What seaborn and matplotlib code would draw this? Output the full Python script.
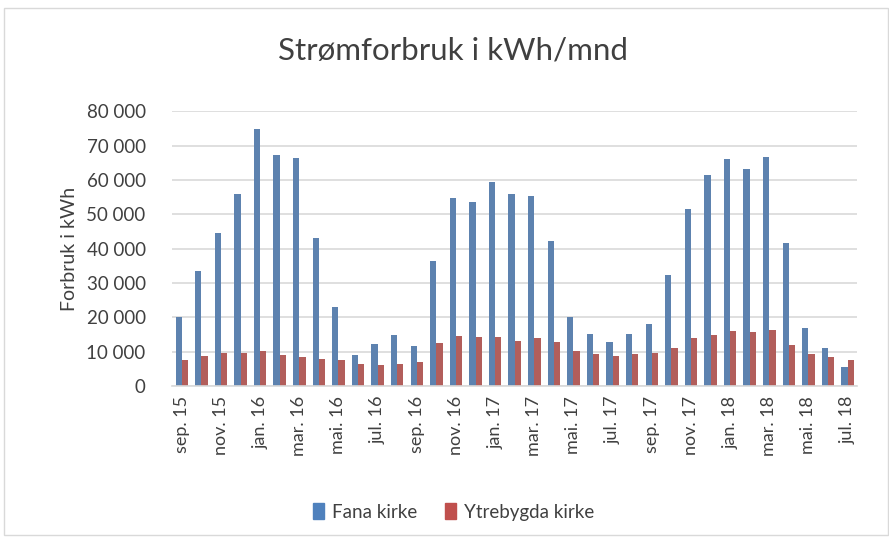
import numpy as np
import pandas as pd
import matplotlib.pyplot as plt
import seaborn as sns
from matplotlib.patches import Rectangle

months = ["sep. 15", "okt. 15", "nov. 15", "des. 15", "jan. 16", "feb. 16", "mar. 16", "apr. 16",
          "mai. 16", "jun. 16", "jul. 16", "aug. 16", "sep. 16", "okt. 16", "nov. 16", "des. 16",
          "jan. 17", "feb. 17", "mar. 17", "apr. 17", "mai. 17", "jun. 17", "jul. 17", "aug. 17",
          "sep. 17", "okt. 17", "nov. 17", "des. 17", "jan. 18", "feb. 18", "mar. 18", "apr. 18",
          "mai. 18", "jun. 18", "jul. 18"]

fana = [20000, 33500, 44500, 56000, 74800, 67300, 66300, 43000, 23000, 9000, 12200, 14800,
        11700, 36300, 54700, 53500, 59500, 55800, 55300, 42300, 20000, 15300, 12700, 15200,
        18000, 32200, 51600, 61300, 66000, 63200, 66800, 41600, 16800, 11100, 5700]

ytrebygda = [7700, 8800, 9700, 9500, 10200, 9000, 8500, 7900, 7500, 6300, 6000, 6400,
             7000, 12600, 14600, 14400, 14400, 13200, 13900, 12900, 10100, 9400, 8800, 9300,
             9600, 11200, 13900, 15000, 15900, 15700, 16200, 12100, 9300, 8400, 7500]

series = ["Fana kirke", "Ytrebygda kirke"]

df = pd.DataFrame({
    "mnd": months * 2,
    "kWh": fana + ytrebygda,
    "kirke": [series[0]] * len(months) + [series[1]] * len(months),
})

sns.set_style("white")
plt.rcParams["font.family"] = ["Lato", "DejaVu Sans"]

fig = plt.figure(figsize=(8.89, 5.40), dpi=100)
ax = fig.add_axes([0.1935, 0.285, 0.771, 0.509])

sns.barplot(data=df, x="mnd", y="kWh", hue="kirke", order=months,
            palette=["#4F81BD", "#C0504D"], width=0.64, dodge=True, ax=ax)

for bar in ax.patches:
    bar.set_edgecolor("none")

ax.set_ylim(0, 80000)
ax.set_xlim(-0.5, len(months) - 0.5)
ax.set_yticks(np.arange(0, 80001, 10000))
ax.set_yticklabels([f"{v:,}".replace(",", " ") for v in range(0, 80001, 10000)],
                   fontsize=13.5, color="#404040")
ax.yaxis.grid(True, color="#d9d9d9", linewidth=1.2)
ax.set_axisbelow(True)

ax.set_xticks(range(len(months)))
ax.set_xticklabels([m if i % 2 == 0 else "" for i, m in enumerate(months)],
                   rotation=90, fontsize=13, color="#404040")
ax.tick_params(axis="x", length=0, pad=7)
ax.tick_params(axis="y", length=0, pad=19)

for s in ["top", "right", "left"]:
    ax.spines[s].set_visible(False)
ax.spines["bottom"].set_color("#d9d9d9")
ax.spines["bottom"].set_linewidth(1.2)

ax.set_xlabel("")
ax.set_ylabel("Forbruk i kWh", fontsize=14, color="#404040", labelpad=6)

ax.legend_.remove()
handles = [Rectangle((0, 0), 1, 1, color=c) for c in ["#4F81BD", "#C0504D"]]
fig.legend(handles, series, loc="center", bbox_to_anchor=(0.51, 0.052), ncol=2,
           frameon=False, fontsize=13.5, handlelength=0.6, handleheight=0.9,
           handletextpad=0.4, columnspacing=1.5, labelcolor="#404040")

fig.suptitle("Strømforbruk i kWh/mnd", x=0.51, y=0.907, va="center", fontsize=22.5,
             color="#404040")

fig.patches.append(Rectangle((0.004, 0.01), 0.995, 0.975, transform=fig.transFigure,
                             fill=False, edgecolor="#d9d9d9", linewidth=1))

fig.savefig("out.png", dpi=100)
